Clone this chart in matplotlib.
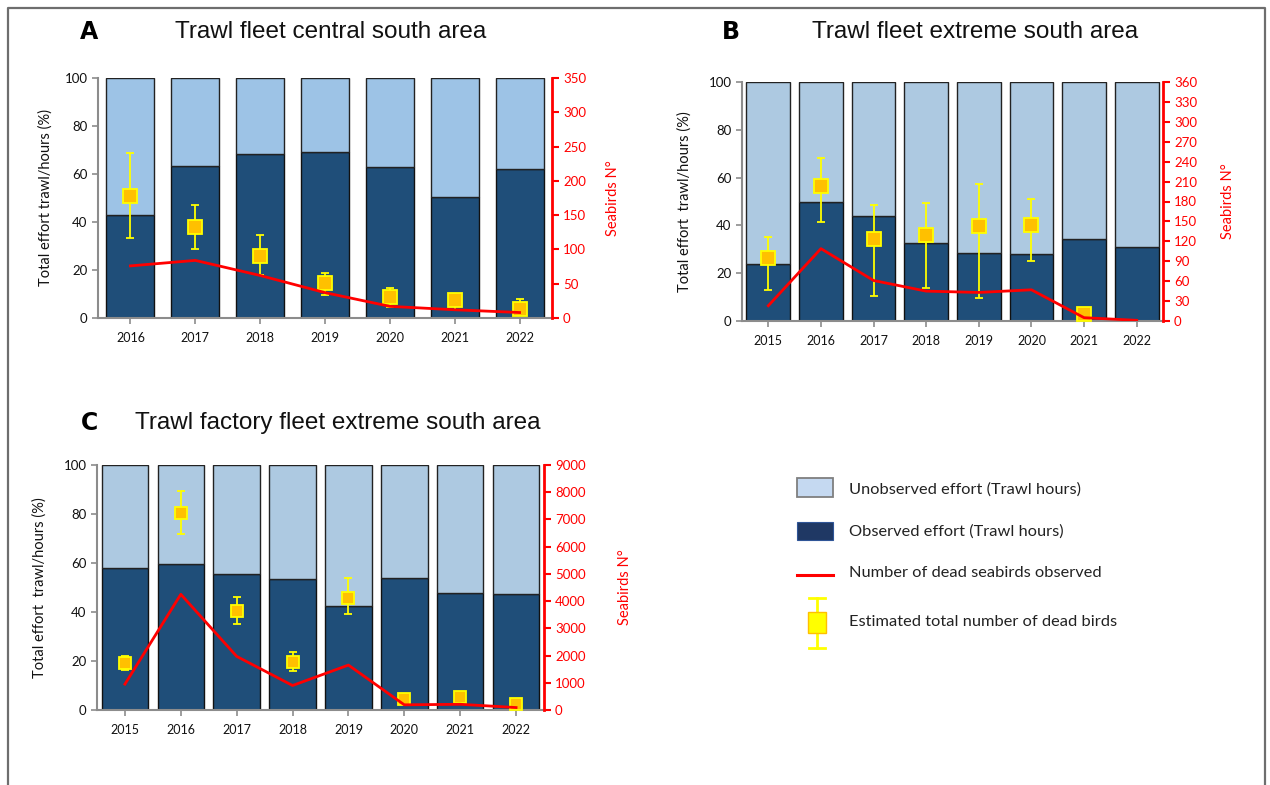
import matplotlib
matplotlib.use("Agg")
import matplotlib.pyplot as plt
from matplotlib.patches import Rectangle

# ---------------- data ----------------
years_a = ["2016", "2017", "2018", "2019", "2020", "2021", "2022"]
observed_a = [42.8, 63.3, 68.3, 69.2, 62.9, 50.6, 62.2]
dead_obs_a = [76, 84, 62, 37, 17, 12, 8]
est_a = [178, 133, 91, 51, 31, 26, 13]
est_hi_a = [240, 165, 121, 66, 44, 35, 27]
est_lo_a = [116, 101, 62, 33, 16, 11, 5]

years_b = ["2015", "2016", "2017", "2018", "2019", "2020", "2021", "2022"]
observed_b = [24.0, 49.9, 44.1, 32.8, 28.6, 28.2, 34.3, 31.0]
dead_obs_b = [23, 109, 61, 45, 43, 47, 5, 1]
est_b = [95, 203, 123, 129, 143, 145, 11, None]
est_hi_b = [127, 245, 175, 178, 206, 184, 17, None]
est_lo_b = [47, 149, 37, 49, 34, 90, 5, None]

years_c = ["2015", "2016", "2017", "2018", "2019", "2020", "2021", "2022"]
observed_c = [57.8, 59.5, 55.4, 53.3, 42.3, 53.7, 47.6, 47.2]
dead_obs_c = [950, 4250, 1970, 900, 1650, 190, 210, 90]
est_c = [1730, 7220, 3620, 1750, 4130, 390, 470, 210]
est_hi_c = [2000, 8030, 4140, 2130, 4850, 390, 470, 210]
est_lo_c = [1480, 6480, 3170, 1450, 3530, 390, 470, 210]

W, H = 1270, 785
fig = plt.figure(figsize=(W / 100, H / 100), dpi=100)

DARK = "#1F4E79"
RED = "#FF0000"
GRAY = "#8C8C8C"
TICKFONT = "Lato"


def pos(l, t, r, b):
    return [l / W, 1 - b / H, (r - l) / W, (b - t) / H]


def panel(rect, years, observed, dead, est, hi, lo, light, rmax, rstep,
          ylabel, msize, barw, lpad, rpad):
    ax = fig.add_axes(pos(*rect))
    x = list(range(len(years)))
    unobs = [100 - v for v in observed]
    ax.bar(x, observed, width=barw, color=DARK, edgecolor="#111111",
           linewidth=1.0, zorder=2)
    ax.bar(x, unobs, bottom=observed, width=barw, color=light,
           edgecolor="#222222", linewidth=1.0, zorder=2)
    ax.set_xlim(-0.5, len(years) - 0.5)
    ax.set_ylim(0, 100)
    ax.set_yticks(range(0, 101, 20))
    ax.set_xticks(x)
    ax.set_xticklabels(years, fontfamily=TICKFONT, fontsize=9)
    for lab in ax.get_yticklabels():
        lab.set_fontfamily(TICKFONT)
        lab.set_fontsize(9.5)
    for s in ["top", "right"]:
        ax.spines[s].set_visible(False)
    for s in ["left", "bottom"]:
        ax.spines[s].set_color(GRAY)
        ax.spines[s].set_linewidth(1.5)
    ax.tick_params(axis="both", colors=GRAY, labelcolor="#111111",
                   length=4, width=1.2, direction="out")
    ax.tick_params(axis="x", pad=6)
    ax.set_ylabel(ylabel, fontfamily=TICKFONT, fontsize=10.5, labelpad=lpad,
                  color="#111111")

    ax2 = ax.twinx()
    ax2.set_ylim(0, rmax)
    ax2.set_yticks(range(0, rmax + 1, rstep))
    for s in ["top", "left", "bottom"]:
        ax2.spines[s].set_visible(False)
    ax2.spines["right"].set_color(RED)
    ax2.spines["right"].set_linewidth(2)
    ax2.tick_params(axis="y", colors=RED, labelcolor=RED, length=5,
                    width=1.5, direction="out", pad=3)
    for lab in ax2.get_yticklabels():
        lab.set_fontfamily(TICKFONT)
        lab.set_fontsize(9.5)
    ax2.set_ylabel("Seabirds N°", color=RED, fontfamily=TICKFONT,
                   fontsize=10.5, labelpad=rpad)

    ex = [xi for xi, e in zip(x, est) if e is not None]
    ev = [e for e in est if e is not None]
    eh = [h for h in hi if h is not None]
    el = [l for l in lo if l is not None]
    yerr = [[e - l for e, l in zip(ev, el)], [h - e for e, h in zip(ev, eh)]]
    ax2.errorbar(ex, ev, yerr=yerr, fmt="s", color="#FFFF00", ecolor="#FFFF00",
                 elinewidth=1.3, capsize=3, capthick=1.8,
                 markerfacecolor="#FFC000", markeredgecolor="#FFFF00",
                 markeredgewidth=1.3, markersize=msize, zorder=3)
    ax2.plot(x, dead, color=RED, linewidth=2.0, zorder=4)
    return ax, ax2


panel((98, 78, 552, 318), years_a, observed_a, dead_obs_a, est_a, est_hi_a,
      est_lo_a, "#9DC3E6", 350, 50, "Total effort trawl/hours (%)", 9.5,
      0.74, 8.5, 14)
panel((742, 82, 1163, 321), years_b, observed_b, dead_obs_b, est_b, est_hi_b,
      est_lo_b, "#ADC9E1", 360, 30, "Total effort  trawl/hours (%)", 9.5,
      0.83, 12, 17)
panel((97, 465, 544, 710), years_c, observed_c, dead_obs_c, est_c, est_hi_c,
      est_lo_c, "#ADC9E1", 9000, 1000, "Total effort  trawl/hours (%)", 8,
      0.83, 12, 23)

# ---------------- overlay: border, titles, legend ----------------
ov = fig.add_axes([0, 0, 1, 1], zorder=-1)
ov.set_xlim(0, W)
ov.set_ylim(H, 0)
ov.axis("off")

ov.plot([8, 8, 1265, 1265], [800, 8, 8, 800], color="#6E6E6E", lw=1.6)

for letter, lx, ly in [("A", 89, 32), ("B", 731, 32), ("C", 89, 423)]:
    ov.text(lx, ly, letter, fontsize=17, fontweight="heavy",
            fontfamily="DejaVu Sans", ha="center", va="center")
for title, tx, ty in [("Trawl fleet central south area", 331, 32),
                      ("Trawl fleet extreme south area", 975, 32),
                      ("Trawl factory fleet extreme south area", 338, 423)]:
    ov.text(tx, ty, title, fontsize=17.5, fontfamily="Liberation Sans",
            ha="center", va="center", color="#111111")

ov.add_patch(Rectangle((797, 478), 36, 19, facecolor="#C5D9F1",
                       edgecolor="#7F7F7F", lw=1.3))
ov.add_patch(Rectangle((797, 522), 36, 18, facecolor="#1F3864",
                       edgecolor="#2F5597", lw=0.8))
ov.plot([797, 833], [575, 575], color=RED, lw=2.2)
ov.plot([817, 817], [598, 648], color="#FFFF00", lw=2)
ov.plot([809, 825], [598, 598], color="#FFFF00", lw=2)
ov.plot([809, 825], [648, 648], color="#FFFF00", lw=2)
ov.add_patch(Rectangle((808, 612), 18, 21, facecolor="#FFFF00",
                       edgecolor="#FFC000", lw=1.0, zorder=3))

for txt, ty in [("Unobserved effort (Trawl hours)", 490),
                ("Observed effort (Trawl hours)", 532),
                ("Number of dead seabirds observed", 573),
                ("Estimated total number of dead birds", 622)]:
    ov.text(849, ty, txt, fontsize=11.8, fontfamily=TICKFONT, ha="left",
            va="center", color="#222222")

fig.savefig("out.png", dpi=100)
